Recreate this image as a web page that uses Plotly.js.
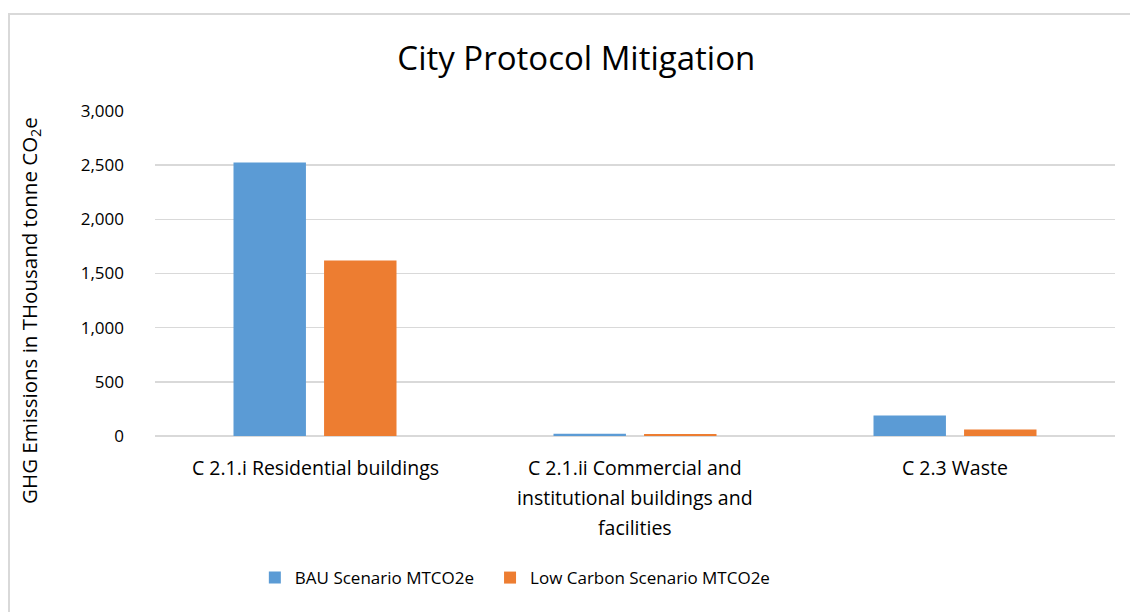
<!DOCTYPE html>
<html>
<head>
<meta charset="utf-8">
<script src="https://cdn.plot.ly/plotly-3.0.1.min.js"></script>
<style>
html,body{margin:0;padding:0;overflow:hidden;background:#fff;}
#chart{width:1130px;height:612px;}
#frame{position:absolute;left:8px;top:13px;width:1200px;height:700px;border:2px solid #d9d9d9;pointer-events:none;}
</style>
</head>
<body>
<div id="chart"></div>
<div id="frame"></div>
<script>
const categories = [
  "C 2.1.i Residential buildings",
  "C 2.1.ii Commercial and<br>institutional buildings and<br>facilities",
  "C 2.3 Waste"
];
const bauValues = [2525, 20, 190];
const lowCarbonValues = [1620, 18, 60];
const seriesNames = ["BAU Scenario MTCO2e", "Low Carbon Scenario MTCO2e"];
const yTickVals = [0, 500, 1000, 1500, 2000, 2500, 3000];
const yTickText = ["0", "500", "1,000", "1,500", "2,000", "2,500", "3,000"];
const yTitle = "GHG Emissions in THousand tonne CO<sub>2</sub>e";
const chartTitle = "City Protocol Mitigation";

const font = "'Open Sans', sans-serif";

const data = [
  {type: "bar", x: categories, y: bauValues, name: seriesNames[0], marker: {color: "#5b9bd5"}, hoverinfo: "y", legend: "legend"},
  {type: "bar", x: categories, y: lowCarbonValues, name: seriesNames[1], marker: {color: "#ed7d31"}, hoverinfo: "y", legend: "legend2"}
];

// category labels as annotations, one per line, for Excel-like line spacing
const annotations = [];
categories.forEach(function (c) {
  c.split("<br>").forEach(function (line, i) {
    annotations.push({
      x: c, xref: "x", y: 0, yref: "paper", yanchor: "middle", xanchor: "center",
      yshift: -31 - 30 * i, showarrow: false, text: line,
      font: {family: font, size: 19.5, color: "#000"}
    });
  });
});
annotations.push({
  x: 0, xref: "paper", xshift: -125, y: 0.385, yref: "paper", yanchor: "middle", xanchor: "center",
  textangle: -90, showarrow: false, text: yTitle,
  font: {family: font, size: 20.5, color: "#000"}
});

const legendFont = {size: 17, color: "#000", family: font};

const layout = {
  width: 1130, height: 612,
  paper_bgcolor: "#fff", plot_bgcolor: "#fff",
  margin: {l: 155, r: 15, t: 111, b: 176},
  font: {family: font, color: "#000", size: 17},
  title: {text: chartTitle, font: {family: font, size: 33, color: "#000"}, x: 0.51, xanchor: "center", y: 0.905, yanchor: "middle"},
  barmode: "group",
  bargap: 0.434,
  bargroupgap: 0.2,
  xaxis: {
    showgrid: false, showline: false, zeroline: false, ticks: "",
    showticklabels: false, automargin: false
  },
  yaxis: {
    range: [0, 3000], tickvals: yTickVals, ticktext: yTickText,
    showgrid: true, gridcolor: "#d9d9d9", gridwidth: 1.5,
    zeroline: true, zerolinecolor: "#d9d9d9", zerolinewidth: 1.5,
    showline: false, ticks: "", ticklabelstandoff: 30,
    tickfont: {size: 17, color: "#000", family: font},
    automargin: false
  },
  annotations: annotations,
  legend: {
    orientation: "h", x: 0.104, xanchor: "left", y: -0.437, yanchor: "middle",
    font: legendFont, itemwidth: 30
  },
  legend2: {
    orientation: "h", x: 0.349, xanchor: "left", y: -0.437, yanchor: "middle",
    font: legendFont, itemwidth: 30
  },
  showlegend: true
};

Plotly.newPlot("chart", data, layout, {displayModeBar: false, staticPlot: true});
</script>
</body>
</html>
